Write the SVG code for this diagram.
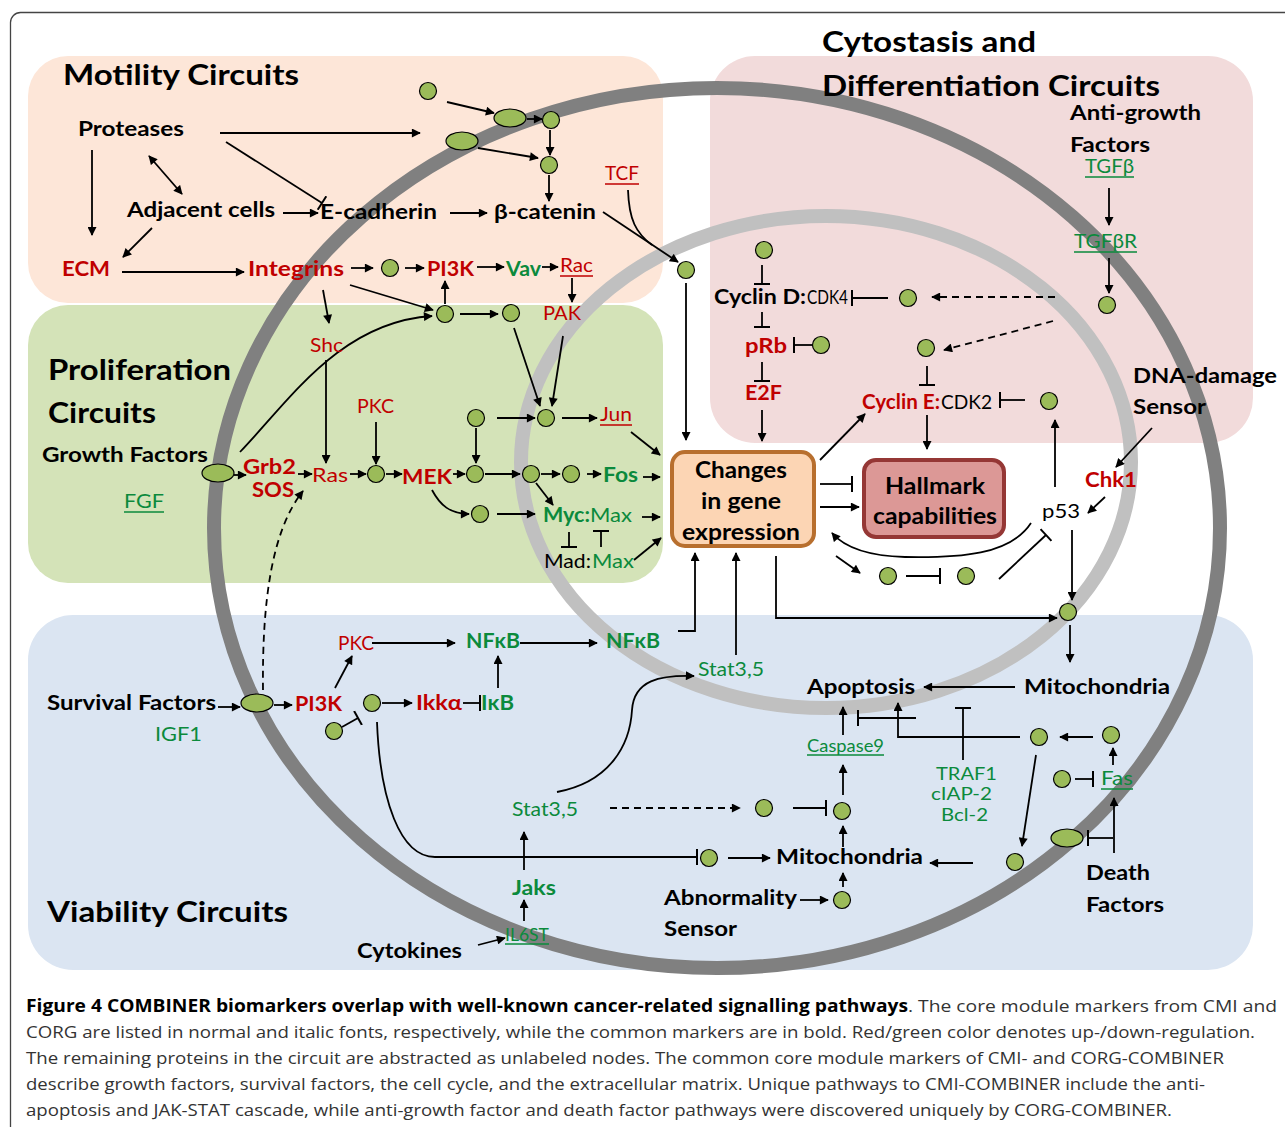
<svg xmlns="http://www.w3.org/2000/svg" width="1285" height="1127" viewBox="0 0 1285 1127">
<defs>
<marker id="a" viewBox="0 0 10 10" refX="9" refY="5" markerWidth="10" markerHeight="9" markerUnits="userSpaceOnUse" orient="auto-start-reverse"><path d="M0,0 L10,5 L0,10 z" fill="#000"/></marker>
<marker id="t" viewBox="-2 -8 4 16" refX="0" refY="0" markerWidth="4" markerHeight="16" markerUnits="userSpaceOnUse" orient="auto"><path d="M0,-8 V8" stroke="#000" stroke-width="2"/></marker>
</defs>
<style>
text{font-family:Lato,"Liberation Sans",sans-serif;}
.T{font-size:29px;font-weight:bold;fill:#000;}
.B{font-size:20px;font-weight:bold;fill:#000;}
.BX{font-size:22px;font-weight:bold;fill:#000;}
.K{font-size:20px;fill:#000;}
.RB{font-size:20px;font-weight:bold;fill:#c00000;}
.GB{font-size:20px;font-weight:bold;fill:#0b8a3c;}
.R{font-size:19px;fill:#c00000;}
.G{font-size:19px;fill:#0b8a3c;}
.G20{font-size:20px;fill:#0b8a3c;}
.Gt{font-size:18px;fill:#0b8a3c;}
.Gs{font-size:17px;fill:#0b8a3c;}
.ul{stroke-width:1.3;}
.ur{stroke:#c00000;}
.ug{stroke:#0b8a3c;}
.c path{fill:none;stroke:#000;stroke-width:1.8;}
.c .ar{marker-end:url(#a);}
.c .tb{marker-end:url(#t);}
.c .ds{stroke-dasharray:7 5;}
.n{fill:#9bbb59;stroke:#000;stroke-width:1.2;}
.cap{font-family:"Open Sans","Liberation Sans",sans-serif;font-size:17px;fill:#333;}
.capb{font-family:"Open Sans","Liberation Sans",sans-serif;font-size:17px;fill:#000;font-weight:bold;}
</style>
<rect width="1285" height="1127" fill="#fff"/>
<rect x="10.5" y="12.5" width="1300" height="1200" rx="10" fill="none" stroke="#444" stroke-width="1.3"/>

<g id="panels">
<rect id="panel-motility" x="28" y="56" width="635" height="247" rx="40" fill="#fde6d8"/>
<rect id="panel-proliferation" x="28" y="305" width="635" height="278" rx="40" fill="#d4e3b8"/>
<rect id="panel-cytostasis" x="710" y="56" width="543" height="387" rx="45" fill="#f2dbdb"/>
<rect id="panel-viability" x="28" y="615" width="1225" height="355" rx="45" fill="#dbe5f2"/>
</g>

<g id="membranes" fill="none">
<ellipse id="cell-membrane" cx="717" cy="528" rx="503" ry="440" stroke="#808080" stroke-width="14"/>
<ellipse id="nuclear-membrane" cx="826" cy="462" rx="305" ry="246" stroke="#c0c0c0" stroke-width="14"/>
</g>

<g id="connectors" class="c">
<path class="ar" d="M220,133 H420"/>
<path class="tb" d="M226,142 L322,203"/>
<path class="ar" d="M92,150 V235"/>
<path class="ar" d="M149,156 L182,194" marker-start="url(#a)"/>
<path class="ar" d="M152,228 L123,257"/>
<path class="ar" d="M283,213 H318"/>
<path class="ar" d="M450,213 H487"/>
<path class="ar" d="M122,272 H244"/>
<path class="ar" d="M351,268 H373"/>
<path class="ar" d="M405,268 H424"/>
<path class="ar" d="M477,267 H504"/>
<path class="ar" d="M542,267 H558"/>
<path class="ar" d="M572,278 V302"/>
<path class="ar" d="M447,102 L494,113"/>
<path class="ar" d="M527,119 H542"/>
<path class="ar" d="M550,130 V155"/>
<path class="ar" d="M478,148 L538,158"/>
<path class="ar" d="M549,175 V201"/>
<path class="ar" d="M603,212 L678,262"/>
<path d="M628,190 C629,220 636,233 652,245"/>
<path class="ar" d="M686,283 V440"/>
<path class="ar" d="M323,290 L329,323"/>
<path class="ar" d="M350,285 L433,310"/>
<path class="ar" d="M445,304 V281"/>
<path class="ar" d="M460,314 H498"/>
<path class="ar" d="M240,452 C290,400 340,322 432,316"/>
<path class="ar" d="M234,475 H246"/>
<path class="ar" d="M298,474 H312"/>
<path class="ar" d="M326,360 V463"/>
<path class="ar" d="M350,474 H366"/>
<path class="ar" d="M376,422 V464"/>
<path class="ar" d="M386,474 H402"/>
<path class="ar" d="M453,474 H465"/>
<path class="ar" d="M476,428 V463"/>
<path class="ar" d="M497,418 H535"/>
<path class="ar" d="M562,418 H597"/>
<path class="ar" d="M514,328 L540,406"/>
<path class="ar" d="M563,336 L552,406"/>
<path class="ar" d="M485,474 H520"/>
<path class="ar" d="M541,474 H560"/>
<path class="ar" d="M587,474 H601"/>
<path class="ar" d="M536,483 L553,505"/>
<path class="ar" d="M432,490 C440,505 450,514 469,514"/>
<path class="ar" d="M497,514 H535"/>
<path class="ar" d="M631,432 L660,455"/>
<path class="ar" d="M643,477 H660"/>
<path class="ar" d="M642,517 H660"/>
<path class="ar" d="M634,560 L661,538"/>
<path class="tb" d="M569,532 V547"/>
<path class="tb" d="M601,547 V531"/>
<path class="ar ds" d="M263,690 C262,600 272,530 303,491"/>
<path class="ar" d="M1109,188 V225"/>
<path class="ar" d="M1109,258 V293"/>
<path class="ar ds" d="M1055,297 H932"/>
<path class="tb" d="M888,298 H852"/>
<path class="tb" d="M762,265 V284"/>
<path class="tb" d="M762,312 V327"/>
<path class="tb" d="M812,345 H794"/>
<path class="tb" d="M762,362 V381"/>
<path class="ar" d="M762,410 V441"/>
<path class="ar ds" d="M1053,321 L944,350"/>
<path class="tb" d="M927,366 V385"/>
<path class="tb" d="M1025,400 H1000"/>
<path class="ar" d="M1055,487 V420"/>
<path class="ar" d="M1152,428 L1116,467"/>
<path class="ar" d="M1105,497 L1088,513"/>
<path class="ar" d="M927,415 V449"/>
<path class="ar" d="M820,460 L865,414"/>
<path class="tb" d="M820,484 H852"/>
<path class="ar" d="M820,507 H859"/>
<path class="ar" d="M1031,523 C1010,555 960,558 905,557 C870,556 845,548 832,533"/>
<path class="ar" d="M836,556 L860,573"/>
<path class="tb" d="M906,576 H940"/>
<path class="tb" d="M999,579 L1046,535"/>
<path class="ar" d="M1072,530 V600"/>
<path class="ar" d="M776,556 V618 H1057"/>
<path class="ar" d="M1070,625 V662"/>
<path class="ar" d="M218,707 H240"/>
<path class="ar" d="M274,705 H292"/>
<path class="ar" d="M335,688 L352,656"/>
<path class="ar" d="M372,643 H455"/>
<path class="ar" d="M520,643 H597"/>
<path class="ar" d="M678,631 H695 V553"/>
<path class="ar" d="M382,703 H412"/>
<path class="tb" d="M463,703 H480"/>
<path class="ar" d="M498,688 V656"/>
<path class="tb" d="M342,727 L358,718"/>
<path class="tb" d="M377,722 C380,800 400,857 435,857 H697"/>
<path class="ar" d="M728,858 H770"/>
<path class="ar" d="M524,870 V832"/>
<path class="ar" d="M524,921 V900"/>
<path class="ar" d="M478,945 L505,938"/>
<path class="ar" d="M557,792 C610,782 630,745 632,710 C634,680 660,675 694,676"/>
<path class="ar" d="M736,655 V553"/>
<path class="ar ds" d="M610,808 H740"/>
<path class="tb" d="M793,808 H826"/>
<path class="ar" d="M843,795 V765"/>
<path class="ar" d="M843,735 V707"/>
<path class="tb" d="M916,718 H858"/>
<path class="ar" d="M1020,737 H898 V703"/>
<path class="tb" d="M963,760 V708"/>
<path class="ar" d="M1015,687 H924"/>
<path class="ar" d="M1093,737 H1060"/>
<path class="ar" d="M1113,765 V748"/>
<path class="tb" d="M1075,779 H1093"/>
<path class="ar" d="M1036,755 L1022,846"/>
<path class="ar" d="M973,863 H930"/>
<path class="tb" d="M1113,838 H1088"/>
<path class="ar" d="M1114,853 V798"/>
<path class="ar" d="M800,900 H828"/>
<path class="ar" d="M843,887 V873"/>
<path class="ar" d="M843,847 V826"/>
</g>

<g id="unlabeled-nodes">
<circle class="n" cx="428" cy="91" r="8.5"/>
<circle class="n" cx="551" cy="120" r="8.5"/>
<circle class="n" cx="549" cy="165" r="8.5"/>
<circle class="n" cx="686" cy="270" r="8.5"/>
<circle class="n" cx="390" cy="268" r="8.5"/>
<circle class="n" cx="445" cy="314" r="8.5"/>
<circle class="n" cx="511" cy="313" r="8.5"/>
<ellipse class="n" cx="510" cy="118" rx="16" ry="9"/>
<ellipse class="n" cx="462" cy="141" rx="16" ry="9"/>
<ellipse class="n" cx="218" cy="473" rx="16" ry="9"/>
<ellipse class="n" cx="257" cy="703" rx="16" ry="9"/>
<ellipse class="n" cx="1067" cy="838" rx="16" ry="9"/>
<circle class="n" cx="376" cy="474" r="8.5"/>
<circle class="n" cx="475" cy="474" r="8.5"/>
<circle class="n" cx="531" cy="474" r="8.5"/>
<circle class="n" cx="571" cy="474" r="8.5"/>
<circle class="n" cx="476" cy="418" r="8.5"/>
<circle class="n" cx="546" cy="418" r="8.5"/>
<circle class="n" cx="480" cy="514" r="8.5"/>
<circle class="n" cx="764" cy="250" r="8.5"/>
<circle class="n" cx="908" cy="298" r="8.5"/>
<circle class="n" cx="1107" cy="305" r="8.5"/>
<circle class="n" cx="821" cy="345" r="8.5"/>
<circle class="n" cx="926" cy="348" r="8.5"/>
<circle class="n" cx="1049" cy="401" r="8.5"/>
<circle class="n" cx="888" cy="576" r="8.5"/>
<circle class="n" cx="966" cy="576" r="8.5"/>
<circle class="n" cx="1068" cy="612" r="8.5"/>
<circle class="n" cx="372" cy="703" r="8.5"/>
<circle class="n" cx="334" cy="731" r="8.5"/>
<circle class="n" cx="709" cy="858" r="8.5"/>
<circle class="n" cx="764" cy="808" r="8.5"/>
<circle class="n" cx="842" cy="811" r="8.5"/>
<circle class="n" cx="842" cy="900" r="8.5"/>
<circle class="n" cx="1039" cy="737" r="8.5"/>
<circle class="n" cx="1111" cy="735" r="8.5"/>
<circle class="n" cx="1062" cy="779" r="8.5"/>
<circle class="n" cx="1015" cy="862" r="8.5"/>
</g>

<g id="changes-box">
<rect x="672" y="452" width="142" height="94" rx="13" fill="#fcd5b4" stroke="#b86f2e" stroke-width="4"/>
<text class="BX" x="741" y="478" text-anchor="middle" textLength="92" lengthAdjust="spacingAndGlyphs">Changes</text>
<text class="BX" x="741" y="509" text-anchor="middle" textLength="80" lengthAdjust="spacingAndGlyphs">in gene</text>
<text class="BX" x="741" y="540" text-anchor="middle" textLength="118" lengthAdjust="spacingAndGlyphs">expression</text>
</g>
<g id="hallmark-box">
<rect x="864" y="460" width="140" height="77" rx="12" fill="#dc9896" stroke="#953735" stroke-width="4"/>
<text class="BX" x="935" y="494" text-anchor="middle" textLength="100" lengthAdjust="spacingAndGlyphs">Hallmark</text>
<text class="BX" x="935" y="524" text-anchor="middle" textLength="124" lengthAdjust="spacingAndGlyphs">capabilities</text>
</g>

<g id="titles">
<text class="T" x="63" y="85" textLength="236" lengthAdjust="spacingAndGlyphs">Motility Circuits</text>
<text class="T" x="822" y="52" textLength="214" lengthAdjust="spacingAndGlyphs">Cytostasis and</text>
<text class="T" x="822" y="96" textLength="338" lengthAdjust="spacingAndGlyphs">Differentiation Circuits</text>
<text class="T" x="48" y="380" textLength="183" lengthAdjust="spacingAndGlyphs">Proliferation</text>
<text class="T" x="48" y="423" textLength="108" lengthAdjust="spacingAndGlyphs">Circuits</text>
<text class="T" x="47" y="922" textLength="241" lengthAdjust="spacingAndGlyphs">Viability Circuits</text>
</g>

<g id="labels-black">
<text id="proteases" class="B" x="78" y="136" textLength="106" lengthAdjust="spacingAndGlyphs">Proteases</text>
<text id="adjacent-cells" class="B" x="127" y="217" textLength="148" lengthAdjust="spacingAndGlyphs">Adjacent cells</text>
<text id="e-cadherin" class="B" x="320" y="219" textLength="117" lengthAdjust="spacingAndGlyphs">E-cadherin</text>
<text id="b-catenin" class="B" x="494" y="219" textLength="102" lengthAdjust="spacingAndGlyphs">β-catenin</text>
<text id="growth-factors" class="B" x="42" y="462" textLength="166" lengthAdjust="spacingAndGlyphs">Growth Factors</text>
<text id="anti-growth" class="B" x="1070" y="120" textLength="131" lengthAdjust="spacingAndGlyphs">Anti-growth</text>
<text class="B" x="1070" y="152" textLength="80" lengthAdjust="spacingAndGlyphs">Factors</text>
<text id="dna-damage" class="B" x="1133" y="383" textLength="144" lengthAdjust="spacingAndGlyphs">DNA-damage</text>
<text class="B" x="1133" y="414" textLength="73" lengthAdjust="spacingAndGlyphs">Sensor</text>
<text id="survival-factors" class="B" x="47" y="710" textLength="169" lengthAdjust="spacingAndGlyphs">Survival Factors</text>
<text id="cytokines" class="B" x="357" y="958" textLength="105" lengthAdjust="spacingAndGlyphs">Cytokines</text>
<text id="apoptosis" class="B" x="807" y="694" textLength="108" lengthAdjust="spacingAndGlyphs">Apoptosis</text>
<text id="mito-1" class="B" x="1024" y="694" textLength="146" lengthAdjust="spacingAndGlyphs">Mitochondria</text>
<text id="mito-2" class="B" x="776" y="864" textLength="147" lengthAdjust="spacingAndGlyphs">Mitochondria</text>
<text id="abnormality" class="B" x="664" y="905" textLength="133" lengthAdjust="spacingAndGlyphs">Abnormality</text>
<text class="B" x="664" y="936" textLength="73" lengthAdjust="spacingAndGlyphs">Sensor</text>
<text id="death-factors" class="B" x="1086" y="880" textLength="64" lengthAdjust="spacingAndGlyphs">Death</text>
<text class="B" x="1086" y="912" textLength="78" lengthAdjust="spacingAndGlyphs">Factors</text>
<text id="p53" class="K" x="1042" y="518" textLength="38" lengthAdjust="spacingAndGlyphs">p53</text>
<text id="cyclin-d" class="B" x="714" y="304" textLength="92" lengthAdjust="spacingAndGlyphs">Cyclin D:</text>
<text class="K" x="807" y="304" textLength="41" lengthAdjust="spacingAndGlyphs">CDK4</text>
<text id="cyclin-e" class="RB" x="862" y="409" textLength="78" lengthAdjust="spacingAndGlyphs">Cyclin E:</text>
<text class="K" x="941" y="409" textLength="51" lengthAdjust="spacingAndGlyphs">CDK2</text>
<text id="mad-max" class="K" x="544" y="568" textLength="47" lengthAdjust="spacingAndGlyphs">Mad:</text>
<text class="G20" x="592" y="568" textLength="42" lengthAdjust="spacingAndGlyphs">Max</text>
<text id="myc-max" class="GB" x="543" y="522" textLength="47" lengthAdjust="spacingAndGlyphs">Myc:</text>
<text class="G20" x="590" y="522" textLength="42" lengthAdjust="spacingAndGlyphs">Max</text>
</g>

<g id="labels-red">
<text id="ecm" class="RB" x="62" y="276" textLength="48" lengthAdjust="spacingAndGlyphs">ECM</text>
<text id="integrins" class="RB" x="248" y="276" textLength="96" lengthAdjust="spacingAndGlyphs">Integrins</text>
<text id="pi3k-1" class="RB" x="427" y="276" textLength="47" lengthAdjust="spacingAndGlyphs">PI3K</text>
<text id="grb2" class="RB" x="243" y="474" textLength="53" lengthAdjust="spacingAndGlyphs">Grb2</text>
<text id="sos" class="RB" x="252" y="497" textLength="42" lengthAdjust="spacingAndGlyphs">SOS</text>
<text id="mek" class="RB" x="402" y="484" textLength="50" lengthAdjust="spacingAndGlyphs">MEK</text>
<text id="prb" class="RB" x="745" y="353" textLength="42" lengthAdjust="spacingAndGlyphs">pRb</text>
<text id="e2f" class="RB" x="745" y="400" textLength="37" lengthAdjust="spacingAndGlyphs">E2F</text>
<text id="chk1" class="RB" x="1085" y="487" textLength="52" lengthAdjust="spacingAndGlyphs">Chk1</text>
<text id="pi3k-2" class="RB" x="295" y="711" textLength="47" lengthAdjust="spacingAndGlyphs">PI3K</text>
<text id="ikka" class="RB" x="416" y="710" textLength="46" lengthAdjust="spacingAndGlyphs">Ikkα</text>
<text id="shc" class="R" x="310" y="352" textLength="33" lengthAdjust="spacingAndGlyphs">Shc</text>
<text id="pak" class="R" x="543" y="320" textLength="38" lengthAdjust="spacingAndGlyphs">PAK</text>
<text id="pkc-1" class="R" x="357" y="413" textLength="37" lengthAdjust="spacingAndGlyphs">PKC</text>
<text id="ras" class="R" x="312" y="482" textLength="36" lengthAdjust="spacingAndGlyphs">Ras</text>
<text id="pkc-2" class="R" x="338" y="650" textLength="36" lengthAdjust="spacingAndGlyphs">PKC</text>
<text id="tcf" class="R" x="605" y="180" textLength="34" lengthAdjust="spacingAndGlyphs">TCF</text>
<text id="rac" class="R" x="560" y="272" textLength="33" lengthAdjust="spacingAndGlyphs">Rac</text>
<text id="jun" class="R" x="600" y="421" textLength="32" lengthAdjust="spacingAndGlyphs">Jun</text>
<path class="ul ur" d="M605,184 H639 M560,276 H593 M600,425 H632" fill="none"/>
</g>

<g id="labels-green">
<text id="vav" class="GB" x="506" y="276" textLength="35" lengthAdjust="spacingAndGlyphs">Vav</text>
<text id="fos" class="GB" x="603" y="482" textLength="35" lengthAdjust="spacingAndGlyphs">Fos</text>
<text id="nfkb-1" class="GB" x="466" y="648" textLength="54" lengthAdjust="spacingAndGlyphs">NFκB</text>
<text id="nfkb-2" class="GB" x="606" y="648" textLength="54" lengthAdjust="spacingAndGlyphs">NFκB</text>
<text id="ikb" class="GB" x="481" y="710" textLength="33" lengthAdjust="spacingAndGlyphs">IκB</text>
<text id="jaks" class="GB" x="512" y="895" textLength="44" lengthAdjust="spacingAndGlyphs">Jaks</text>
<text id="fgf" class="G" x="124" y="508" textLength="40" lengthAdjust="spacingAndGlyphs">FGF</text>
<text id="tgfb" class="G" x="1085" y="173" textLength="49" lengthAdjust="spacingAndGlyphs">TGFβ</text>
<text id="tgfbr" class="G" x="1074" y="248" textLength="63" lengthAdjust="spacingAndGlyphs">TGFβR</text>
<text id="caspase9" class="Gs" x="807" y="752" textLength="77" lengthAdjust="spacingAndGlyphs">Caspase9</text>
<text id="fas" class="G" x="1101" y="785" textLength="32" lengthAdjust="spacingAndGlyphs">Fas</text>
<text id="il6st" class="Gs" x="505" y="941" textLength="44" lengthAdjust="spacingAndGlyphs">IL6ST</text>
<path class="ul ug" d="M124,512 H164 M1085,177 H1134 M1074,252 H1137 M807,755 H884 M1101,789 H1133 M505,944 H549" fill="none"/>
<text id="igf1" class="G" x="155" y="741" textLength="47" lengthAdjust="spacingAndGlyphs">IGF1</text>
<text id="stat35-1" class="G" x="512" y="816" textLength="66" lengthAdjust="spacingAndGlyphs">Stat3,5</text>
<text id="stat35-2" class="G" x="698" y="676" textLength="66" lengthAdjust="spacingAndGlyphs">Stat3,5</text>
<text id="traf1" class="Gt" x="936" y="780" textLength="61" lengthAdjust="spacingAndGlyphs">TRAF1</text>
<text id="ciap2" class="Gt" x="931" y="800" textLength="61" lengthAdjust="spacingAndGlyphs">cIAP-2</text>
<text id="bcl2" class="Gt" x="941" y="821" textLength="47" lengthAdjust="spacingAndGlyphs">Bcl-2</text>
</g>

<g id="caption">
<text class="capb" x="26" y="1012" textLength="882" lengthAdjust="spacingAndGlyphs">Figure 4 COMBINER biomarkers overlap with well-known cancer-related signalling pathways</text>
<text class="cap" x="908" y="1012" textLength="369" lengthAdjust="spacingAndGlyphs">. The core module markers from CMI and</text>
<text class="cap" x="26" y="1038" textLength="1229" lengthAdjust="spacingAndGlyphs">CORG are listed in normal and italic fonts, respectively, while the common markers are in bold. Red/green color denotes up-/down-regulation.</text>
<text class="cap" x="26" y="1064" textLength="1198" lengthAdjust="spacingAndGlyphs">The remaining proteins in the circuit are abstracted as unlabeled nodes. The common core module markers of CMI- and CORG-COMBINER</text>
<text class="cap" x="26" y="1090" textLength="1179" lengthAdjust="spacingAndGlyphs">describe growth factors, survival factors, the cell cycle, and the extracellular matrix. Unique pathways to CMI-COMBINER include the anti-</text>
<text class="cap" x="26" y="1116" textLength="1146" lengthAdjust="spacingAndGlyphs">apoptosis and JAK-STAT cascade, while anti-growth factor and death factor pathways were discovered uniquely by CORG-COMBINER.</text>
</g>
</svg>
